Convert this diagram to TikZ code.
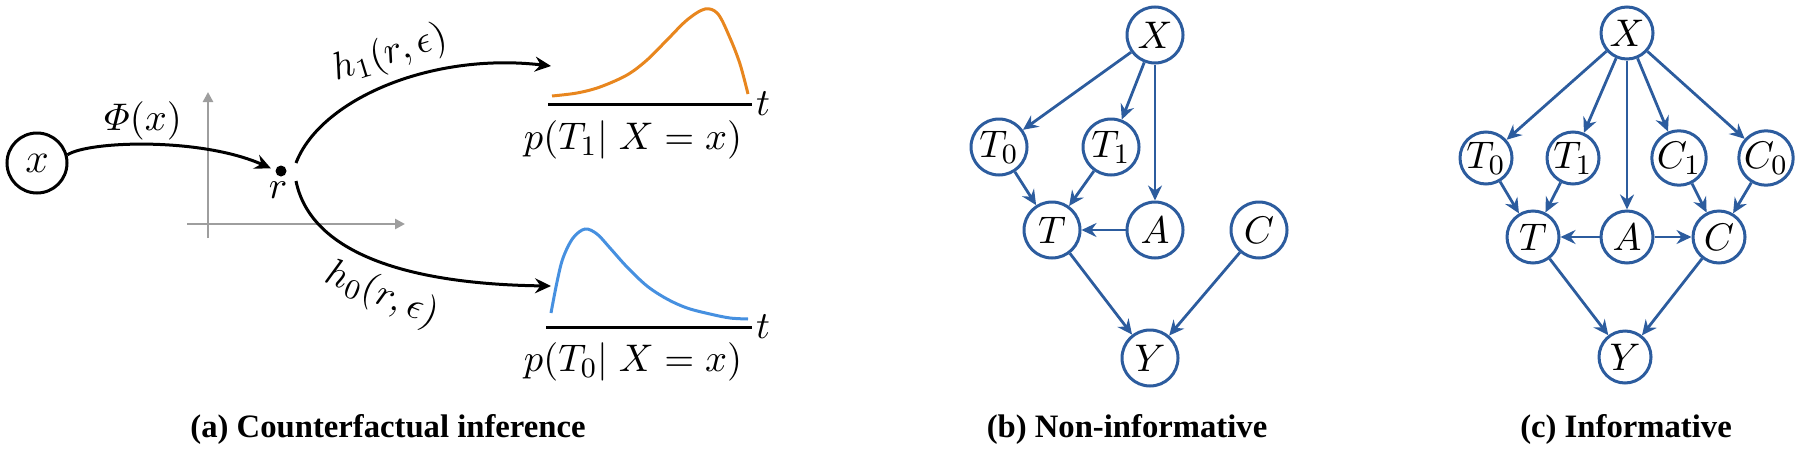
\documentclass[tikz,border=0pt]{standalone}
\usepackage{fontspec}
\newfontfamily\capfont{Liberation Serif}
\usetikzlibrary{arrows.meta}
\definecolor{gblue}{HTML}{2C5C9E}
\definecolor{dorange}{HTML}{E8861E}
\definecolor{dlblue}{HTML}{4690E0}
\definecolor{axgray}{HTML}{9E9E9E}
\begin{document}
\begin{tikzpicture}[x=0.1mm,y=-0.1mm,
  blk/.style={line width=0.3mm, -{Stealth[length=1.6mm,width=1.5mm,inset=0.55mm]}},
  gnode/.style={circle, draw=gblue, line width=0.3mm, inner sep=0pt, text=black},
  bnode/.style={gnode, minimum size=5.6mm, font=\fontsize{10.95}{12}\selectfont},
  cnode/.style={gnode, minimum size=5.2mm, font=\fontsize{10.95}{12}\selectfont},
  garr/.style={draw=gblue, line width=0.28mm, -{Stealth[length=1.5mm,width=1.4mm,inset=0.5mm]}},
  axisline/.style={draw=axgray, line width=0.25mm, -{Triangle[length=1mm,width=1mm]}},
  captext/.style={font=\capfont\bfseries\fontsize{9.3}{11}\selectfont, anchor=base},
  mlab/.style={font=\fontsize{10.95}{13}\selectfont},
  axbase/.style={line width=0.3mm},
  dens/.style={line width=0.3mm},
]
\useasboundingbox (0,0) rectangle (1800,450);

% ---------- panel (a) ----------
\draw[axisline] (208,238) -- (208,92);
\draw[axisline] (187,224) -- (405,224);

\node[circle, draw, line width=0.3mm, minimum size=6mm, inner sep=0pt,
      font=\fontsize{12}{14}\selectfont] (xn) at (37,163) {$x$};
\node[circle, fill, inner sep=0pt, minimum size=1.1mm, outer sep=0.5mm] (rd) at (281,171) {};
\node[mlab] (rl) at (278,190) {$r$};
\draw[blk] (xn.15) .. controls (88,141) and (200,137) .. (rd.165);
\node[mlab] (phil) at (143,121) {$\mathnormal{\Phi}(x)$};

\coordinate (h1s) at (296,163);
\coordinate (h1e) at (551,66);
\draw[blk] (h1s) .. controls (320,100) and (430,52) .. (h1e);
\coordinate (h0s) at (296,181);
\coordinate (h0e) at (551,286);
\draw[blk] (h0s) .. controls (310,250) and (400,284) .. (h0e);
\node[mlab, rotate=17, inner sep=1pt] (h1l) at (390,54) {$h_1(r,\epsilon)$};
\node[mlab, rotate=-22, inner sep=1pt] (h0l) at (382,295) {$h_0(r,\epsilon)$};

% top density
\coordinate (b1l) at (548,104);
\coordinate (b1r) at (752,104);
\draw[axbase] (b1l) -- (b1r);
\node[mlab, anchor=west, inner sep=1pt] (t1) at (b1r) {$t$};
\draw[dens, dorange] plot[smooth, tension=0.55] coordinates {
  (552,96) (577,93) (600,87) (627,75) (647,60) (667,40) (687,20) (705,9)
  (718,14) (730,38) (740,64) (748,94)};
\node[mlab] (p1) at (633,140) {$p(T_1|\;X = x)$};

% bottom density
\coordinate (b0l) at (546,327);
\coordinate (b0r) at (752,327);
\draw[axbase] (b0l) -- (b0r);
\node[mlab, anchor=west, inner sep=1pt] (t0) at (b0r) {$t$};
\draw[dens, dlblue] plot[smooth, tension=0.55] coordinates {
  (551,313) (557,282) (563,258) (573,238) (585,229) (597,234) (610,248)
  (627,267) (647,286) (667,299) (687,308) (710,314) (730,318) (748,319)};
\node[mlab] (p0) at (633,362) {$p(T_0|\;X = x)$};

\node[captext] (capa) at (388,437) {(a) Counterfactual inference};

% ---------- panel (b) ----------
\node[bnode] (bX)  at (1155,35)  {$X$};
\node[bnode] (bT0) at (999,147)  {$T_0$};
\node[bnode] (bT1) at (1111,147) {$T_1$};
\node[bnode] (bT)  at (1052,230) {$T$};
\node[bnode] (bA)  at (1155,230) {$A$};
\node[bnode] (bC)  at (1259,230) {$C$};
\node[bnode] (bY)  at (1150,358) {$Y$};
\draw[garr] (bX) -- (bT0);
\draw[garr] (bX) -- (bT1);
\draw[garr] (bX) -- (bA);
\draw[garr] (bT0) -- (bT);
\draw[garr] (bT1) -- (bT);
\draw[garr] (bA) -- (bT);
\draw[garr] (bT) -- (bY);
\draw[garr] (bC) -- (bY);
\node[captext] (capb) at (1127,437) {(b) Non-informative};

% ---------- panel (c) ----------
\node[cnode] (cX)  at (1627,33)  {$X$};
\node[cnode] (cT0) at (1486,158) {$T_0$};
\node[cnode] (cT1) at (1573,158) {$T_1$};
\node[cnode] (cC1) at (1679,158) {$C_1$};
\node[cnode] (cC0) at (1766,158) {$C_0$};
\node[cnode] (cT)  at (1533,237) {$T$};
\node[cnode] (cA)  at (1627,237) {$A$};
\node[cnode] (cC)  at (1719,237) {$C$};
\node[cnode] (cY)  at (1625,357) {$Y$};
\draw[garr] (cX) -- (cT0);
\draw[garr] (cX) -- (cT1);
\draw[garr] (cX) -- (cA);
\draw[garr] (cX) -- (cC1);
\draw[garr] (cX) -- (cC0);
\draw[garr] (cT0) -- (cT);
\draw[garr] (cT1) -- (cT);
\draw[garr] (cA) -- (cT);
\draw[garr] (cA) -- (cC);
\draw[garr] (cC1) -- (cC);
\draw[garr] (cC0) -- (cC);
\draw[garr] (cT) -- (cY);
\draw[garr] (cC) -- (cY);
\node[captext] (capc) at (1626,437) {(c) Informative};
\end{tikzpicture}
\end{document}
